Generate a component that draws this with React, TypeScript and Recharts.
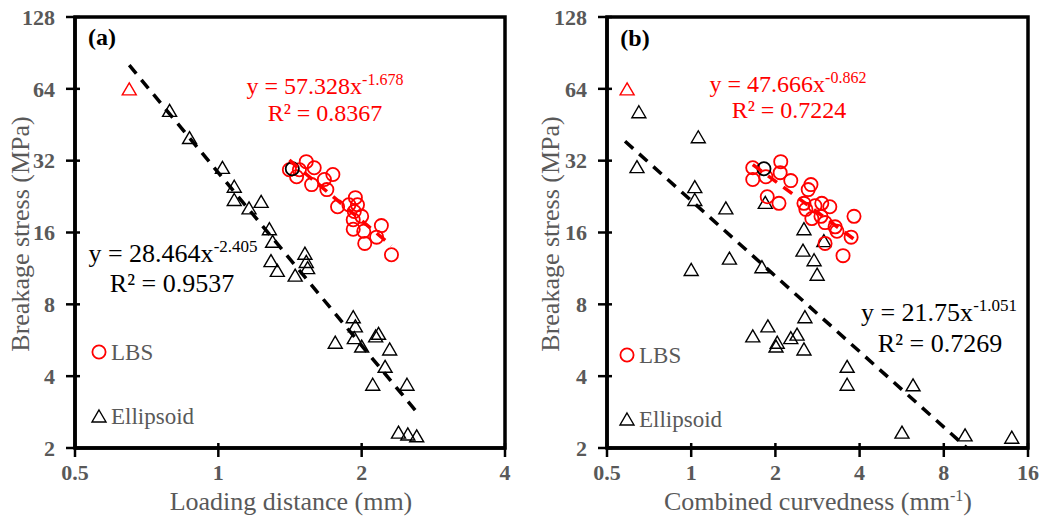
import React from 'react';
import { ScatterChart, Scatter, XAxis, YAxis, ReferenceArea } from 'recharts';

const FONT = '"Liberation Serif", "Times New Roman", serif';
const GRAY = '#595959';
const RED = '#FF0000';

const yTicks = [2, 4, 8, 16, 32, 64, 128];
const xTicksA = [0.5, 1, 2, 4];
const xTicksB = [0.5, 1, 2, 4, 8, 16];

// (a) loading distance (mm) vs breakage stress (MPa)
const ellipsoidA: [number, number][] = [
  [0.79, 52], [0.87, 40], [1.02, 30], [1.08, 25], [1.08, 22], [1.16, 20.3], [1.23, 21.6],
  [1.28, 16.6], [1.30, 14.7], [1.29, 12.2], [1.33, 11.1], [1.45, 10.6], [1.52, 13.1],
  [1.53, 12.1], [1.54, 11.4], [1.92, 7.1], [1.94, 6.5], [1.76, 5.55], [1.93, 5.8],
  [2.0, 5.35], [2.14, 5.9], [2.17, 6.05], [2.29, 5.2], [2.24, 4.4], [2.11, 3.7],
  [2.49, 3.7], [2.39, 2.33], [2.5, 2.29], [2.61, 2.25],
];
const lbsA: [number, number][] = [
  [1.41, 29.3], [1.46, 27.4], [1.48, 29.3], [1.53, 31.7], [1.59, 29.9], [1.57, 25.4],
  [1.67, 26.7], [1.74, 28.0], [1.69, 24.2], [1.78, 20.5], [1.88, 20.9], [1.94, 22.4],
  [1.96, 20.9], [1.93, 19.6], [2.0, 18.7], [1.92, 18.1], [1.92, 16.5], [2.02, 16.2],
  [2.03, 14.4], [2.15, 15.3], [2.2, 17.1], [2.31, 12.9],
];
const redTriA: [number, number][] = [[0.65, 64]];
const blackCircA: [number, number][] = [[1.43, 29.6]];
const fitEllA: [number, number][] = [[0.65, 80.4], [2.61, 2.83]];
const fitLbsA: [number, number][] = [[1.41, 32.2], [2.31, 14.1]];

// (b) combined curvedness (mm-1) vs breakage stress (MPa)
const ellipsoidB: [number, number][] = [
  [0.65, 51.3], [0.64, 30.2], [1.06, 40.3], [1.03, 24.9], [1.03, 22.0], [1.33, 20.3],
  [1.84, 21.4], [2.53, 16.6], [2.51, 13.5], [2.98, 14.8], [2.75, 12.3], [1.0, 11.2],
  [1.37, 12.5], [1.79, 11.5], [2.82, 10.7], [2.55, 7.1], [1.88, 6.5], [1.66, 5.9],
  [2.03, 5.55], [2.01, 5.35], [2.27, 5.8], [2.39, 6.0], [2.53, 5.2], [3.61, 4.4],
  [3.61, 3.7], [6.21, 3.68], [5.67, 2.33], [9.53, 2.27], [14.0, 2.22],
];
const lbsB: [number, number][] = [
  [1.66, 29.9], [1.66, 26.7], [1.85, 27.4], [2.09, 31.7], [2.08, 28.5], [2.27, 26.4],
  [2.62, 24.2], [2.68, 25.4], [1.87, 22.6], [2.06, 21.2], [2.53, 21.2], [2.57, 20.0],
  [2.77, 20.7], [2.93, 21.2], [3.13, 20.5], [2.70, 18.3], [2.91, 18.7], [3.01, 17.6],
  [3.27, 16.9], [3.32, 16.2], [3.82, 18.7], [3.73, 15.3], [3.01, 14.4], [3.49, 12.8],
];
const redTriB: [number, number][] = [[0.59, 64]];
const blackCircB: [number, number][] = [[1.82, 29.6]];
const fitEllB: [number, number][] = [[0.58, 38.6], [9.69, 2.0]];
const fitLbsB: [number, number][] = [[1.66, 30.8], [3.82, 15.0]];

const pts = (a: [number, number][]) => a.map(([x, y]) => ({ x, y }));

const triangle = (color: string) => (p: any) => (
  <path
    d={`M${p.cx},${p.cy - 6} L${p.cx + 7},${p.cy + 6} L${p.cx - 7},${p.cy + 6} Z`}
    fill="none"
    stroke={color}
    strokeWidth={1.4}
  />
);
const circle = (color: string) => (p: any) => (
  <circle cx={p.cx} cy={p.cy} r={6.6} fill="none" stroke={color} strokeWidth={1.8} />
);
const noShape = () => <g />;

const YTick = (props: any) => {
  const { x, y, payload } = props;
  const ax = x + 21;
  return (
    <g>
      <line x1={ax - 9} x2={ax + 5} y1={y} y2={y} stroke="#000" strokeWidth={2.5} />
      <text x={ax - 20} y={y} dy="0.35em" textAnchor="end" fill={GRAY}
        style={{ fontFamily: FONT, fontWeight: 'bold', fontSize: 22 }}>
        {payload.value}
      </text>
    </g>
  );
};

const XTick = (props: any) => {
  const { x, y, payload } = props;
  const ay = y - 17;
  return (
    <g>
      <line x1={x} x2={x} y1={ay - 5} y2={ay + 9} stroke="#000" strokeWidth={2.5} />
      <text x={x} y={ay + 24} dy="0.35em" textAnchor="middle" fill={GRAY}
        style={{ fontFamily: FONT, fontWeight: 'bold', fontSize: 22 }}>
        {payload.value}
      </text>
    </g>
  );
};

type PanelProps = {
  left: number;
  width: number;
  yAxisWidth: number;
  right: number;
  xTicks: number[];
  ell: [number, number][];
  lbs: [number, number][];
  redTri: [number, number][];
  blackCirc: [number, number][];
  fitEll: [number, number][];
  fitLbs: [number, number][];
};

const Panel = (p: PanelProps) => {
  const xMin = p.xTicks[0];
  const xMax = p.xTicks[p.xTicks.length - 1];
  return (
    <div style={{ position: 'absolute', left: p.left, top: 0 }}>
      <ScatterChart width={p.width} height={519} margin={{ top: 17, right: p.right, bottom: 0, left: 0 }}>
        <XAxis type="number" dataKey="x" scale="log" domain={[xMin, xMax]} ticks={p.xTicks}
          allowDataOverflow height={71} tickSize={9} tickMargin={8} tickLine={false}
          axisLine={{ stroke: '#000', strokeWidth: 3.5 }} tick={<XTick />} />
        <YAxis type="number" dataKey="y" scale="log" domain={[2, 128]} ticks={yTicks}
          allowDataOverflow width={p.yAxisWidth} tickSize={9} tickMargin={12} tickLine={false}
          axisLine={{ stroke: '#000', strokeWidth: 3.5 }} tick={<YTick />} />
        <ReferenceArea x1={xMin} x2={xMax} y1={2} y2={128} fill="none" stroke="#000" strokeWidth={3.5} />
        <Scatter name="Ellipsoid" data={pts(p.ell)} shape={triangle('#000')} isAnimationActive={false} />
        <Scatter name="LBS" data={pts(p.lbs)} shape={circle(RED)} isAnimationActive={false} />
        <Scatter name="LBS (black)" data={pts(p.blackCirc)} shape={circle('#000')} isAnimationActive={false} />
        <Scatter name="Ellipsoid (red)" data={pts(p.redTri)} shape={triangle(RED)} isAnimationActive={false} />
        <Scatter name="Ellipsoid fit" data={pts(p.fitEll)} shape={noShape} stroke="#000"
          line={{ stroke: '#000', strokeWidth: 3.5, strokeDasharray: '11 8' }} isAnimationActive={false} />
        <Scatter name="LBS fit" data={pts(p.fitLbs)} shape={noShape} stroke={RED}
          line={{ stroke: RED, strokeWidth: 3.5, strokeDasharray: '11 8' }} isAnimationActive={false} />
      </ScatterChart>
    </div>
  );
};

const Txt = (props: { x: number; y: number; size: number; color: string; bold?: boolean; align?: 'left' | 'center'; children: React.ReactNode }) => {
  const w = 400;
  const left = props.align === 'left' ? props.x : props.x - w / 2;
  return (
    <div style={{
      position: 'absolute', left, top: props.y - props.size, width: w, height: props.size * 2,
      lineHeight: `${props.size * 2}px`, textAlign: props.align === 'left' ? 'left' : 'center',
      fontSize: props.size, color: props.color, fontWeight: props.bold ? 'bold' : 'normal',
      fontFamily: FONT, whiteSpace: 'nowrap',
    }}>{props.children}</div>
  );
};

const Sup = ({ children, size = 16 }: { children: React.ReactNode; size?: number }) => (
  <span style={{ fontSize: size, position: 'relative', top: -Math.round(size * 0.58) }}>{children}</span>
);

const YTitle = ({ x }: { x: number }) => (
  <div style={{
    position: 'absolute', left: x - 160, top: 234 - 16, width: 320, height: 32, lineHeight: '32px',
    textAlign: 'center', transform: 'rotate(-90deg)', fontSize: 26, color: GRAY, fontFamily: FONT,
    whiteSpace: 'nowrap',
  }}>Breakage stress (MPa)</div>
);

const LegendItems = ({ x, y1, y2 }: { x: number; y1: number; y2: number }) => (
  <>
    <svg style={{ position: 'absolute', left: x - 10, top: y1 - 10 }} width={20} height={20}>
      <circle cx={10} cy={10} r={6.6} fill="none" stroke={RED} strokeWidth={1.8} />
    </svg>
    <Txt x={x + 12} y={y1 + 1} size={23} color={GRAY} align="left">LBS</Txt>
    <svg style={{ position: 'absolute', left: x - 10, top: y2 - 10 }} width={20} height={20}>
      <path d="M10,4 L17,16 L3,16 Z" fill="none" stroke="#000" strokeWidth={1.4} />
    </svg>
    <Txt x={x + 12} y={y2 + 1} size={23} color={GRAY} align="left">Ellipsoid</Txt>
  </>
);

export default function App() {
  return (
    <div style={{ position: 'absolute', left: 0, top: 0, width: 1046, height: 519, background: '#fff' }}>
      <Panel left={0} width={520} yAxisWidth={75} right={15} xTicks={xTicksA}
        ell={ellipsoidA} lbs={lbsA} redTri={redTriA} blackCirc={blackCircA} fitEll={fitEllA} fitLbs={fitLbsA} />
      <Panel left={530} width={516} yAxisWidth={77} right={18} xTicks={xTicksB}
        ell={ellipsoidB} lbs={lbsB} redTri={redTriB} blackCirc={blackCircB} fitEll={fitEllB} fitLbs={fitLbsB} />

      <YTitle x={21} />
      <YTitle x={551} />
      <Txt x={291} y={502} size={26} color={GRAY}>Loading distance (mm)</Txt>
      <Txt x={818} y={502} size={26} color={GRAY}>Combined curvedness (mm<Sup>-1</Sup>)</Txt>

      <Txt x={102} y={37} size={24} color="#000" bold>(a)</Txt>
      <Txt x={635} y={38} size={24} color="#000" bold>(b)</Txt>

      <Txt x={325} y={86} size={24} color={RED}>y = 57.328x<Sup>-1.678</Sup></Txt>
      <Txt x={325} y={113} size={24} color={RED}>R² = 0.8367</Txt>
      <Txt x={173} y={254} size={26} color="#000">y = 28.464x<Sup size={17}>-2.405</Sup></Txt>
      <Txt x={172} y={284} size={26} color="#000">R² = 0.9537</Txt>

      <Txt x={788} y={84} size={24} color={RED}>y = 47.666x<Sup>-0.862</Sup></Txt>
      <Txt x={789} y={110} size={24} color={RED}>R² = 0.7224</Txt>
      <Txt x={939} y={313} size={26} color="#000">y = 21.75x<Sup size={17}>-1.051</Sup></Txt>
      <Txt x={940} y={344} size={26} color="#000">R² = 0.7269</Txt>

      <LegendItems x={99} y1={352} y2={416} />
      <LegendItems x={627} y1={355} y2={419} />
    </div>
  );
}
